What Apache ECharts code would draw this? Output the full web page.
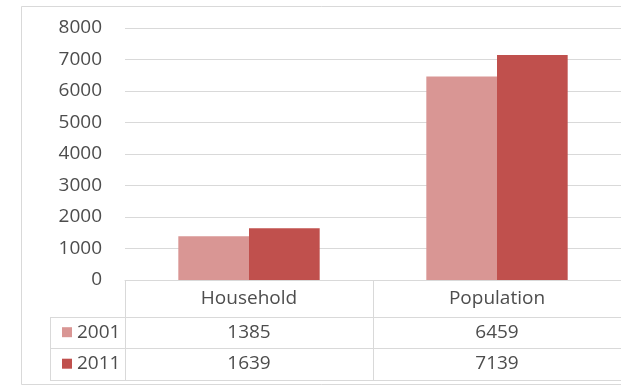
<!DOCTYPE html>
<html>
<head>
<meta charset="utf-8">
<script src="https://cdn.jsdelivr.net/npm/echarts@6/dist/echarts.min.js"></script>
<style>
  html, body { margin: 0; padding: 0; background: #fff; }
  #chart { width: 621px; height: 387px; }
</style>
</head>
<body>
<div id="chart"></div>
<script>
// Households and population, 2001 vs 2011
const categories = ['Household', 'Population'];
const years = ['2001', '2011'];
const values2001 = [1385, 6459];
const values2011 = [1639, 7139];
const yMin = 0;
const yMax = 8000;
const yStep = 1000;

const colors = ['#D99694', '#C0504D'];
const textColor = '#4D4D4D';
const lineColor = '#D9D9D9';
const fontFamily = '"Open Sans", "Liberation Sans", sans-serif';
const fontSize = 19;

// layout of the plot area and the data table below it
const plotLeft = 125, plotTop = 28, plotWidth = 498, axisY = 280;
const rowLines = [316.7, 348, 380];
const tableLeft = 50;

const chart = echarts.init(document.getElementById('chart'), null, { renderer: 'canvas' });

chart.setOption({
  animation: false,
  backgroundColor: '#fff',
  textStyle: { fontFamily: fontFamily },
  grid: { left: plotLeft, top: plotTop, width: plotWidth, height: axisY - plotTop, containLabel: false },
  legend: {
    data: years,
    orient: 'vertical',
    left: 62,
    top: rowLines[0] + 5.5,
    padding: 0,
    itemWidth: 10,
    itemHeight: 10,
    itemGap: 11.5,
    icon: 'rect',
    textStyle: { fontSize: fontSize, color: textColor, lineHeight: 20, fontFamily: fontFamily },
    selectedMode: false
  },
  xAxis: {
    type: 'category',
    data: categories,
    boundaryGap: true,
    axisLine: { show: true, lineStyle: { color: lineColor, width: 1 } },
    axisTick: { show: true, alignWithLabel: false, length: rowLines[2] - axisY, lineStyle: { color: lineColor, width: 1 } },
    axisLabel: { fontSize: fontSize, color: textColor, margin: 9, fontFamily: fontFamily },
    splitLine: { show: false }
  },
  yAxis: {
    type: 'value',
    min: yMin,
    max: yMax,
    interval: yStep,
    axisLine: { show: false },
    axisTick: { show: false },
    axisLabel: {
      fontSize: fontSize, color: textColor, margin: 23, fontFamily: fontFamily,
      formatter: function (v) { return String(v); }
    },
    splitLine: { show: true, lineStyle: { color: lineColor, width: 1 } }
  },
  series: [
    {
      name: years[0], type: 'bar', data: values2001,
      itemStyle: { color: colors[0] },
      barGap: '0%', barCategoryGap: '43%'
    },
    {
      name: years[1], type: 'bar', data: values2011,
      itemStyle: { color: colors[1] },
      barGap: '0%', barCategoryGap: '43%'
    }
  ]
});

// data table: horizontal rules, value cells, outer frame
const rows = [values2001, values2011];
const graphics = [];
graphics.push({
  type: 'rect', silent: true, z: -1,
  shape: { x: 21.5, y: 6.5, width: 640, height: 378 },
  style: { fill: null, stroke: lineColor, lineWidth: 1 }
});
rowLines.forEach(function (y) {
  graphics.push({
    type: 'line', silent: true,
    shape: { x1: tableLeft, y1: Math.round(y) + 0.5, x2: plotLeft + plotWidth, y2: Math.round(y) + 0.5 },
    style: { stroke: lineColor, lineWidth: 1 }
  });
});
graphics.push({
  type: 'line', silent: true,
  shape: { x1: tableLeft + 0.5, y1: Math.round(rowLines[0]), x2: tableLeft + 0.5, y2: Math.round(rowLines[2]) },
  style: { stroke: lineColor, lineWidth: 1 }
});
rows.forEach(function (vals, r) {
  const yc = (rowLines[r] + rowLines[r + 1]) / 2;
  vals.forEach(function (v, c) {
    const xc = chart.convertToPixel({ xAxisIndex: 0 }, categories[c]);
    graphics.push({
      type: 'text', silent: true,
      x: xc, y: yc,
      style: {
        text: String(v), fill: textColor, font: fontSize + 'px ' + fontFamily,
        align: 'center', verticalAlign: 'middle'
      }
    });
  });
});
chart.setOption({ graphic: graphics });
</script>
</body>
</html>
